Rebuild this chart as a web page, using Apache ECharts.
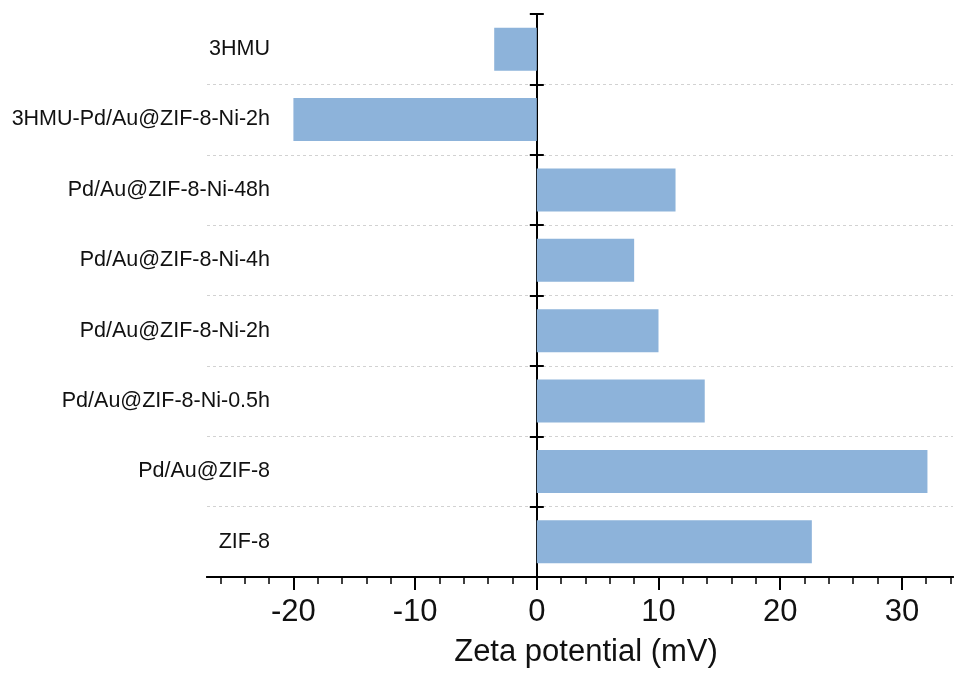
<!DOCTYPE html>
<html>
<head>
<meta charset="utf-8">
<script src="https://cdn.jsdelivr.net/npm/echarts@6/dist/echarts.min.js"></script>
<style>
  html, body { margin: 0; padding: 0; background: #fff; }
  #main { width: 954px; height: 681px; }
</style>
</head>
<body>
<div id="main"></div>
<script>
const categories = [
  '3HMU',
  '3HMU-Pd/Au@ZIF-8-Ni-2h',
  'Pd/Au@ZIF-8-Ni-48h',
  'Pd/Au@ZIF-8-Ni-4h',
  'Pd/Au@ZIF-8-Ni-2h',
  'Pd/Au@ZIF-8-Ni-0.5h',
  'Pd/Au@ZIF-8',
  'ZIF-8'
]
const zetaValues = [-3.5, -20.0, 11.4, 8.0, 10.0, 13.8, 32.1, 22.6]
const majorTicks = [-20, -10, 0, 10, 20, 30]
const minorTicks = [-26, -24, -22, -18, -16, -14, -12, -8, -6, -4, -2, 2, 4, 6, 8, 12, 14, 16, 18, 22, 24, 26, 28, 32, 34]

const font = '"Liberation Sans", Arial, sans-serif'
const xMin = -27.1
const xMax = 34.2

const chart = echarts.init(document.getElementById('main'))
chart.setOption({
  animation: false,
  grid: { left: 207, right: 1, top: 14, bottom: 104, outerBoundsMode: 'none' },
  xAxis: [
    {
      type: 'value',
      min: xMin,
      max: xMax,
      position: 'bottom',
      axisLine: { show: true, onZero: false, lineStyle: { color: '#000', width: 2 } },
      axisTick: { show: true, customValues: majorTicks, length: 13, lineStyle: { color: '#000', width: 2 } },
      axisLabel: {
        customValues: majorTicks,
        fontSize: 31,
        fontFamily: font,
        color: '#111',
        margin: 20
      },
      splitLine: { show: false },
      name: 'Zeta potential (mV)',
      nameLocation: 'middle',
      nameGap: 60,
      nameTextStyle: { fontSize: 31, fontFamily: font, color: '#111', padding: [0, 0, 0, 12] }
    },
    {
      type: 'value',
      min: xMin,
      max: xMax,
      position: 'bottom',
      axisLine: { show: true, onZero: false, lineStyle: { color: '#000', width: 2 } },
      axisTick: { show: true, customValues: minorTicks, length: 7, lineStyle: { color: '#000', width: 1.5 } },
      axisLabel: { show: false },
      splitLine: { show: false }
    }
  ],
  yAxis: [
    {
      type: 'category',
      inverse: true,
      data: categories,
      axisLine: { show: true, onZero: true, lineStyle: { color: '#000', width: 2 } },
      axisTick: { show: true, inside: false, length: 7, lineStyle: { color: '#000', width: 2 } },
      axisLabel: { fontSize: 21.5, fontFamily: font, color: '#111', margin: -63 },
      splitLine: {
        show: true,
        showMinLine: false,
        showMaxLine: false,
        lineStyle: { color: '#d2d2d2', width: 1, type: [3, 3] }
      }
    },
    {
      type: 'category',
      inverse: true,
      position: 'left',
      data: categories,
      axisLine: { show: true, onZero: true, lineStyle: { color: '#000', width: 2 } },
      axisTick: { show: true, inside: true, length: 7, lineStyle: { color: '#000', width: 2 } },
      axisLabel: { show: false },
      splitLine: { show: false }
    }
  ],
  series: [
    {
      type: 'bar',
      xAxisIndex: 0,
      yAxisIndex: 0,
      data: zetaValues,
      barCategoryGap: '39%',
      itemStyle: { color: '#8db3da' }
    }
  ]
})
</script>
</body>
</html>
